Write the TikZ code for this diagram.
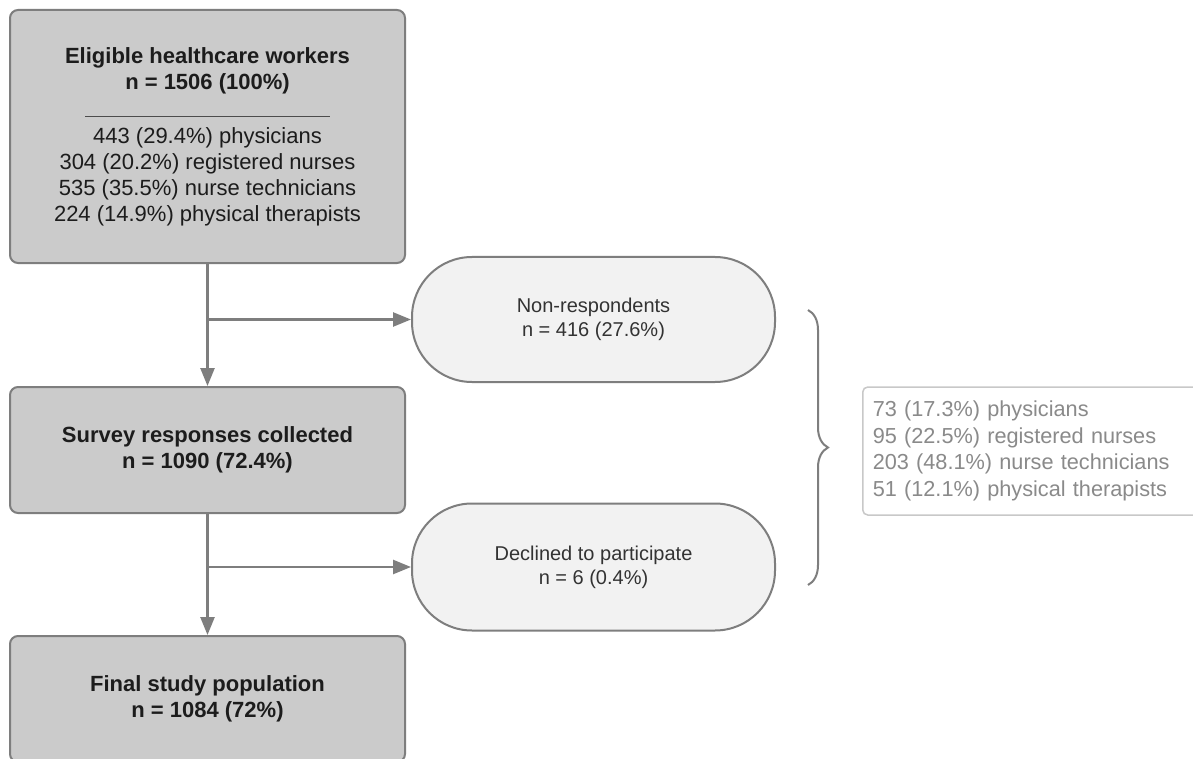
\documentclass[tikz,border=0pt]{standalone}
\usepackage{fontspec}
\setmainfont{Liberation Sans}
\usepackage{tikz}
\usetikzlibrary{positioning,calc,arrows.meta,decorations.pathreplacing}

\definecolor{boxgray}{HTML}{CBCBCB}
\definecolor{edgegray}{HTML}{7E7E7E}
\definecolor{ovalgray}{HTML}{F2F2F2}
\definecolor{notegray}{HTML}{8A8A8A}
\definecolor{noteedge}{HTML}{C8C8C8}
\definecolor{darktext}{HTML}{1C1C1C}

\begin{document}
\begin{tikzpicture}[x=1pt,y=-1pt,
    box/.style={draw=edgegray, fill=boxgray, line width=2pt, rounded corners=8pt,
        minimum width=395pt, align=center, text=darktext, font=\fontsize{22}{26}\selectfont},
    oval/.style={draw=edgegray, fill=ovalgray, line width=2pt, rounded corners=60pt,
        minimum width=363pt, align=center, text=black!80, font=\fontsize{20}{24}\selectfont},
    note/.style={draw=noteedge, fill=white, line width=1.5pt, rounded corners=5pt,
        minimum height=128pt, align=left, text=notegray,
        inner xsep=10pt, text width=340pt, font=\fontsize{21.7}{26.5}\selectfont},
    arr/.style={draw=edgegray, line width=2.5pt, -{Triangle[length=18pt,width=14pt]}}
]
    \clip (0,0) rectangle (1193,759);
    \fill[white] (0,0) rectangle (1193,759);

    % Main column
    \node[box, minimum height=253pt] (eligible) at (207.5,136.5)
        {{\bfseries Eligible healthcare workers}\\
         {\bfseries n = 1506 (100\%)}\\[2pt]
         {\color{black!70}\rule{245pt}{1pt}}\\
         443 (29.4\%) physicians\\
         304 (20.2\%) registered nurses\\
         535 (35.5\%) nurse technicians\\
         224 (14.9\%) physical therapists};
    \node[box, minimum height=126pt] (survey) at (207.5,450)
        {\bfseries Survey responses collected\\ \bfseries n = 1090 (72.4\%)};
    \node[box, minimum height=126pt] (final) at (207.5,699)
        {\bfseries Final study population\\ \bfseries n = 1084 (72\%)};

    % Exclusions
    \node[oval, minimum height=125pt] (nonresp) at (593.5,319.5)
        {Non-respondents\\ n = 416 (27.6\%)};
    \node[oval, minimum height=127pt] (declined) at (593.5,567)
        {Declined to participate\\ n = 6 (0.4\%)};

    % Breakdown of non-respondents
    \node[note, anchor=west] (breakdown) at (862,451)
        {73 (17.3\%) physicians\\
         95 (22.5\%) registered nurses\\
         203 (48.1\%) nurse technicians\\
         51 (12.1\%) physical therapists};
    \draw[edgegray, line width=2pt, decorate, decoration={brace, amplitude=20pt}]
        (808,310) -- (808,585);

    % Arrows
    \draw[arr] (eligible.south) -- (survey.north);
    \draw[arr] (eligible.south |- nonresp.west) -- (nonresp.west);
    \draw[arr] (survey.south) -- (final.north);
    \draw[arr] (survey.south |- declined.west) -- (declined.west);
\end{tikzpicture}
\end{document}
